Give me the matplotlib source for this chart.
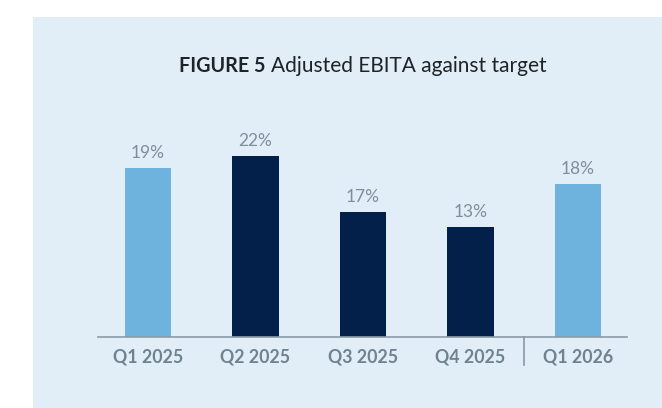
import matplotlib
matplotlib.use("Agg")
import matplotlib.pyplot as plt

categories = ["Q1 2025", "Q2 2025", "Q3 2025", "Q4 2025", "Q1 2026"]
heights = [20.5, 22.0, 15.2, 13.4, 18.6]
labels = ["19%", "22%", "17%", "13%", "18%"]
colors = ["#6DB3DD", "#03204A", "#03204A", "#03204A", "#6DB3DD"]

W, H = 662, 408
fig = plt.figure(figsize=(W / 100, H / 100), dpi=100)
fig.patch.set_facecolor("white")
bg = fig.add_axes([33 / W, 0, 1 - 33 / W, (H - 17) / H], zorder=-5)
bg.set_facecolor("#E2EEF7")
bg.set_xticks([]); bg.set_yticks([])
for s in bg.spines.values():
    s.set_visible(False)

font = "Lato"
ax = fig.add_axes([98 / W, (H - 337) / H, (627 - 98) / W, (337 - 100) / H], zorder=1)
ax.set_facecolor("none")
x = list(range(len(categories)))
ax.bar(x, heights, width=0.43, color=colors, zorder=2)
ax.set_xlim(-0.465, 4.456)
ax.set_ylim(0, 28.8)
for xi, h, lab in zip(x, heights, labels):
    ax.annotate(lab, (xi, h), xytext=(0, 5), textcoords="offset points",
                ha="center", va="bottom", fontsize=12.5, color="#7E8F9C",
                family=font)
for s in ["top", "right", "left"]:
    ax.spines[s].set_visible(False)
ax.spines["bottom"].set_color("#8C9BA6")
ax.spines["bottom"].set_linewidth(1.2)
ax.set_yticks([])
ax.set_xticks(x)
ax.set_xticklabels(categories, fontsize=12.8, fontweight="bold",
                   color="#6E8290", family=font)
ax.tick_params(axis="x", length=0, pad=8)
ax.plot([3.5, 3.5], [0, -3.4], color="#8A98A3", lw=1.2, clip_on=False)

fig.text(179 / W, 1 - 66 / H, "FIGURE 5", fontsize=14.2, fontweight="bold",
         color="#1E2328", family=font, ha="left", va="center")
fig.text(271 / W, 1 - 66 / H, "Adjusted EBITA against target", fontsize=15,
         color="#1E2328", family=font, ha="left", va="center")

fig.savefig("out.png", dpi=100)
